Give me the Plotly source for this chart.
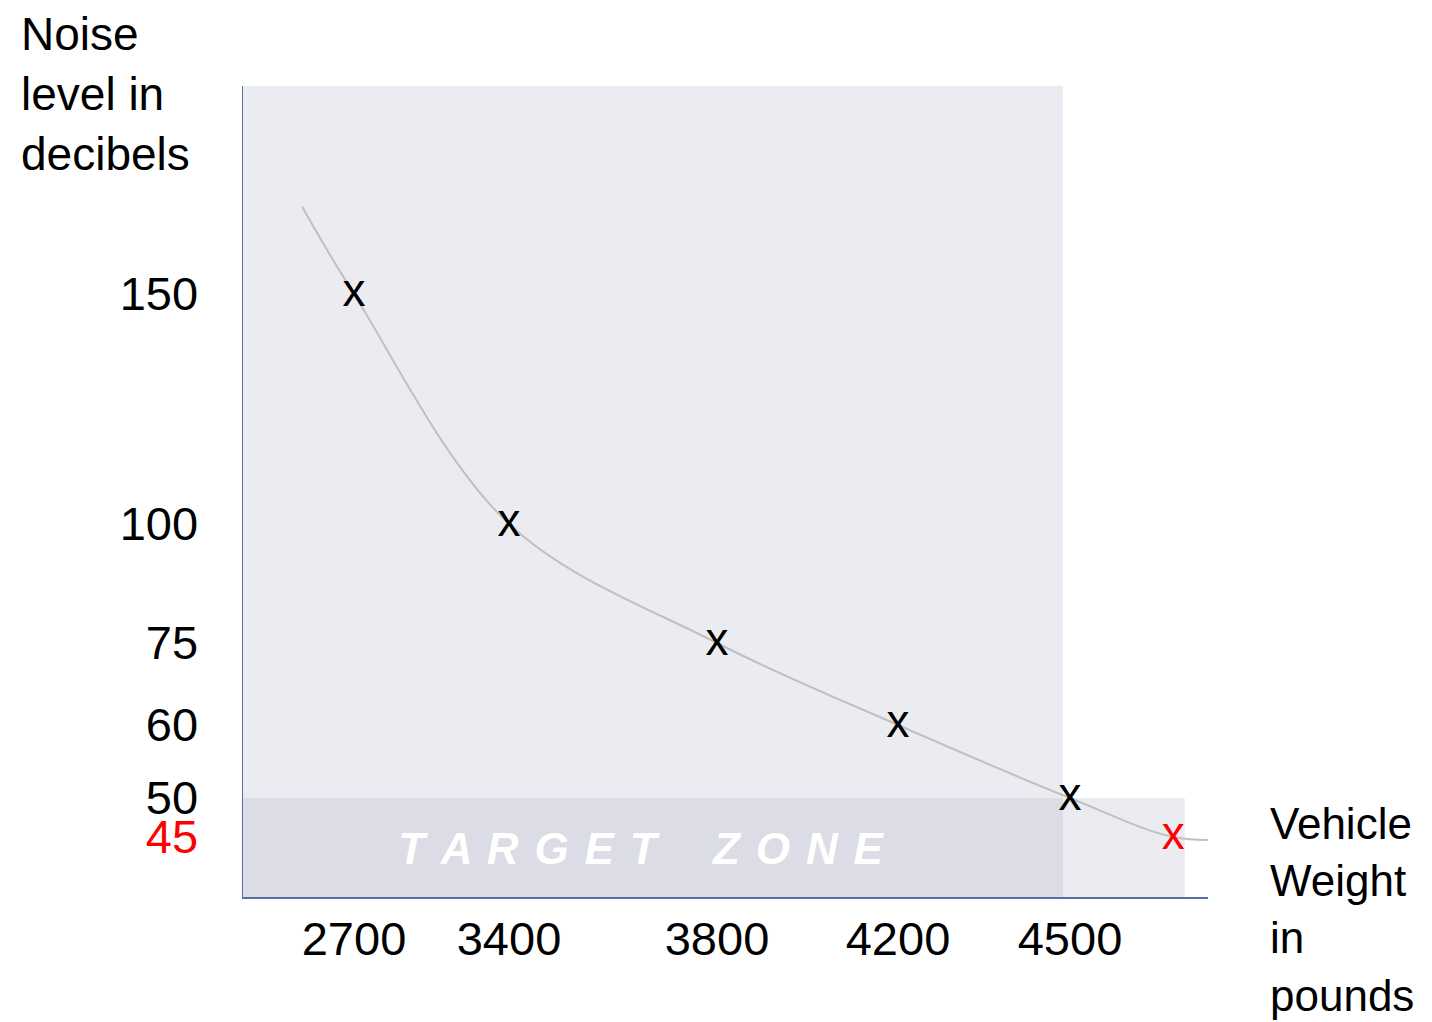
import numpy as np
import plotly.graph_objects as go

# ---------------- data ----------------
weights = [2700, 3400, 3800, 4200, 4500]          # vehicle weight, lb
noise_db = [150, 100, 75, 60, 50]                 # noise level, dB
target_weight = [4680]
target_db = [45]
trend_weights = [2465, 2700, 3400, 3800, 4200, 4500, 4680, 4778]
trend_db = [169, 150, 100, 75, 60, 50, 45, 44.7]
x_tick_values = [2700, 3400, 3800, 4200, 4500]
x_tick_labels = ["2700", "3400", "3800", "4200", "4500"]
y_tick_values = [150, 100, 75, 60, 50, 45]
y_tick_labels = ["150", "100", "75", "60", "50",
                 "<span style='color:#ff0000'>45</span>"]

# ---------------- schematic (non-linear) axis scales of the drawing ----------------
X_KNOTS = ([2700, 3400, 3800, 4200, 4500], [111, 266, 474, 655, 827])
Y_KNOTS = ([45, 50, 60, 75, 100, 150], [60, 99, 172, 254, 373, 603])
X_RANGE = [0, 965]
Y_RANGE = [0, 811]


def scale(v, knots):
    xs, ps = knots
    v = np.asarray(v, float)
    out = np.interp(v, xs, ps)
    s0 = (ps[1] - ps[0]) / (xs[1] - xs[0])
    s1 = (ps[-1] - ps[-2]) / (xs[-1] - xs[-2])
    lo, hi = v < xs[0], v > xs[-1]
    out[lo] = ps[0] + (v[lo] - xs[0]) * s0
    out[hi] = ps[-1] + (v[hi] - xs[-1]) * s1
    return out


FONT = "Arial, 'Liberation Sans', sans-serif"
AXIS_COLOR = "#5570a8"
SHADE = "rgba(155,160,185,0.2)"

fig = go.Figure()

# trend curve
fig.add_trace(go.Scatter(
    x=scale(trend_weights, X_KNOTS), y=scale(trend_db, Y_KNOTS),
    mode="lines", line=dict(color="#c0c0c0", width=2, shape="spline", smoothing=1.0),
    hoverinfo="skip", showlegend=False))

# measured points
fig.add_trace(go.Scatter(
    x=scale(weights, X_KNOTS), y=scale(noise_db, Y_KNOTS),
    mode="text", text=["x"] * len(weights), textposition="middle center",
    textfont=dict(family=FONT, size=46, color="#000000"),
    hoverinfo="skip", showlegend=False))

# target point
fig.add_trace(go.Scatter(
    x=scale(target_weight, X_KNOTS), y=scale(target_db, Y_KNOTS),
    mode="text", text=["x"], textposition="middle center",
    textfont=dict(family=FONT, size=46, color="#ff0000"),
    hoverinfo="skip", showlegend=False))

# background panel and target zone
fig.add_shape(type="rect", xref="paper", yref="paper", x0=0, x1=0.8497, y0=0, y1=1,
              fillcolor=SHADE, line=dict(width=0), layer="below")
fig.add_shape(type="rect", xref="paper", yref="y", x0=0, x1=0.976,
              y0=Y_RANGE[0] - 3, y1=float(scale([50], Y_KNOTS)[0]),
              fillcolor=SHADE, line=dict(width=0), layer="below")

gap = " \u200a"
zone_text = gap.join("TARGET") + gap + "\u00a0\u00a0" + gap + gap.join("ZONE")
fig.add_annotation(
    xref="paper", yref="paper", x=(641 - 243) / 965, y=(897 - 848) / 811,
    text=zone_text, showarrow=False,
    xanchor="center", yanchor="middle",
    font=dict(family=FONT, size=44, color="#ffffff", weight="bold", style="italic"))

# axis titles
fig.add_annotation(
    xref="paper", yref="paper", x=(19 - 243) / 965, y=(897 - 6) / 811,
    text="Noise<br>level in<br>decibels", showarrow=False, align="left",
    xanchor="left", yanchor="top", font=dict(family=FONT, size=46, color="#000000"))
fig.add_annotation(
    xref="paper", yref="paper", x=(1268 - 243) / 965, y=(897 - 797) / 811,
    text="Vehicle<br>Weight<br>in<br>pounds", showarrow=False, align="left",
    xanchor="left", yanchor="top", font=dict(family=FONT, size=44, color="#000000"))

fig.update_xaxes(
    range=X_RANGE, showgrid=False, zeroline=False,
    showline=True, linecolor=AXIS_COLOR, linewidth=1.5,
    tickmode="array", tickvals=scale(x_tick_values, X_KNOTS), ticktext=x_tick_labels,
    ticks="", tickfont=dict(family=FONT, size=47, color="#000000"),
    ticklabelstandoff=0, fixedrange=True)
fig.update_yaxes(
    range=Y_RANGE, showgrid=False, zeroline=False,
    showline=True, linecolor=AXIS_COLOR, linewidth=1.5,
    tickmode="array", tickvals=scale(y_tick_values, Y_KNOTS), ticktext=y_tick_labels,
    ticks="", tickfont=dict(family=FONT, size=47, color="#000000"),
    ticklabelstandoff=34, fixedrange=True)

# the page adds an 8 px body margin, so the figure is 8 px smaller than the window
fig.update_layout(
    width=1424, height=1014, autosize=False,
    margin=dict(l=235, r=224, t=78, b=125, pad=0),
    paper_bgcolor="#ffffff", plot_bgcolor="rgba(0,0,0,0)",
    font=dict(family=FONT), hovermode=False, showlegend=False)

fig.write_html("out.html", config={"displayModeBar": False, "staticPlot": True})
